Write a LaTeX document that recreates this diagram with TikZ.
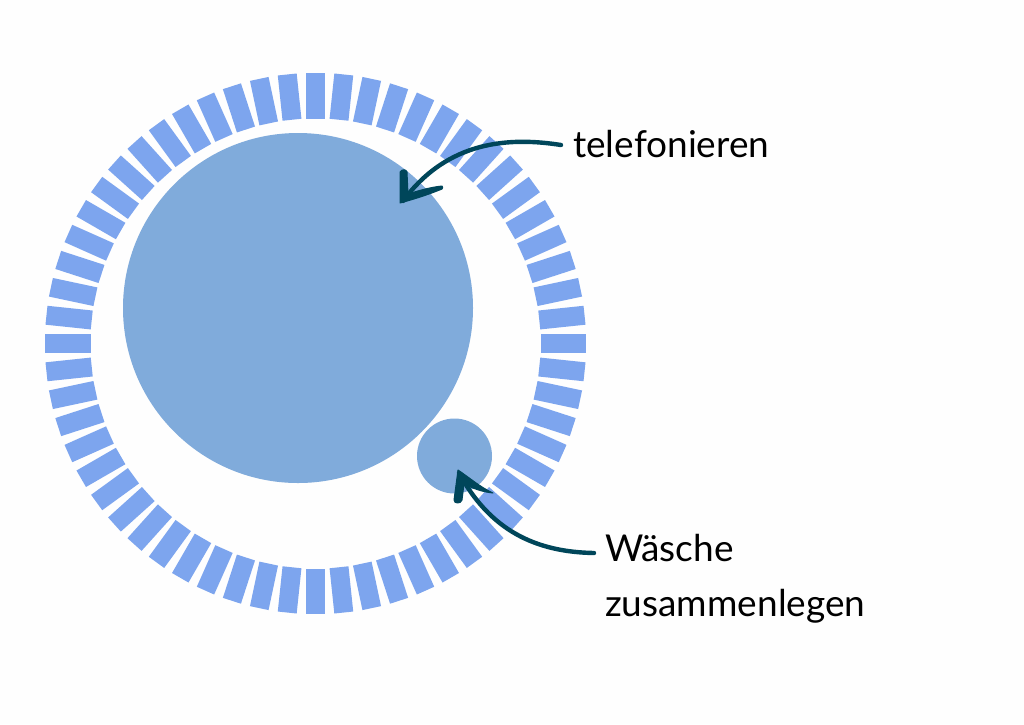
\documentclass[tikz,border=0pt]{standalone}
\usepackage{fontspec}
\setmainfont{Lato}
\definecolor{tickblue}{HTML}{7DA5EE}
\definecolor{discblue}{HTML}{80ABDB}
\definecolor{arrowteal}{HTML}{00465A}
\tikzset{
  disc/.style={circle,fill=discblue,draw=none,inner sep=0pt},
  tick/.style={fill=tickblue,draw=none},
  curve/.style={draw=arrowteal,line width=4.4pt,line cap=round,line join=round},
  head/.style={fill=arrowteal,draw=arrowteal,line width=1pt,line join=round},
  lab/.style={font=\fontsize{37}{55}\selectfont,text=black,inner sep=0pt,anchor=west,align=left}
}
\begin{document}
\begin{tikzpicture}[x=1pt,y=-1pt]
\useasboundingbox (0,0) rectangle (1024,724);
\fill[white!99.6!black] (0,0) rectangle (1024,724);
\foreach \i in {0,...,59}{
  \begin{scope}[shift={(315.5,343.5)},rotate=\i*6]
    \fill[tick] (-9.5,-270.5) rectangle (9.5,-225);
  \end{scope}
}
\node[disc,minimum size=350pt] (big) at (298,308) {};
\node[disc,minimum size=75pt] (small) at (454.5,456) {};
\node[lab] (tel) at (573,144) {telefonieren};
\node[lab,anchor=north west] (wae) at (605,534) {Wäsche\\zusammenlegen};
\coordinate (telstart) at (561,145);
\coordinate (teltip) at (403,201);
\coordinate (waestart) at (594,553);
\coordinate (waetip) at (459,473);
\draw[curve] (telstart) .. controls (510,137) and (448,140) .. (teltip);
\filldraw[head] (400,203) -- (400,172) .. controls (402,169) and (406,169) .. (407,172) -- (408,194) .. controls (420,190) and (432,187) .. (442,186) .. controls (443,187) and (443,188) .. (442,189) .. controls (430,194) and (415,199) .. cycle;
\draw[curve] (waestart) .. controls (535,552) and (490,530) .. (waetip);
\filldraw[head] (458,470) -- (454,500) .. controls (454,504) and (461,504) .. (462,500) -- (464,484) .. controls (472,488) and (482,492) .. (493,493) .. controls (480,487) and (470,478) .. cycle;
\end{tikzpicture}
\end{document}
